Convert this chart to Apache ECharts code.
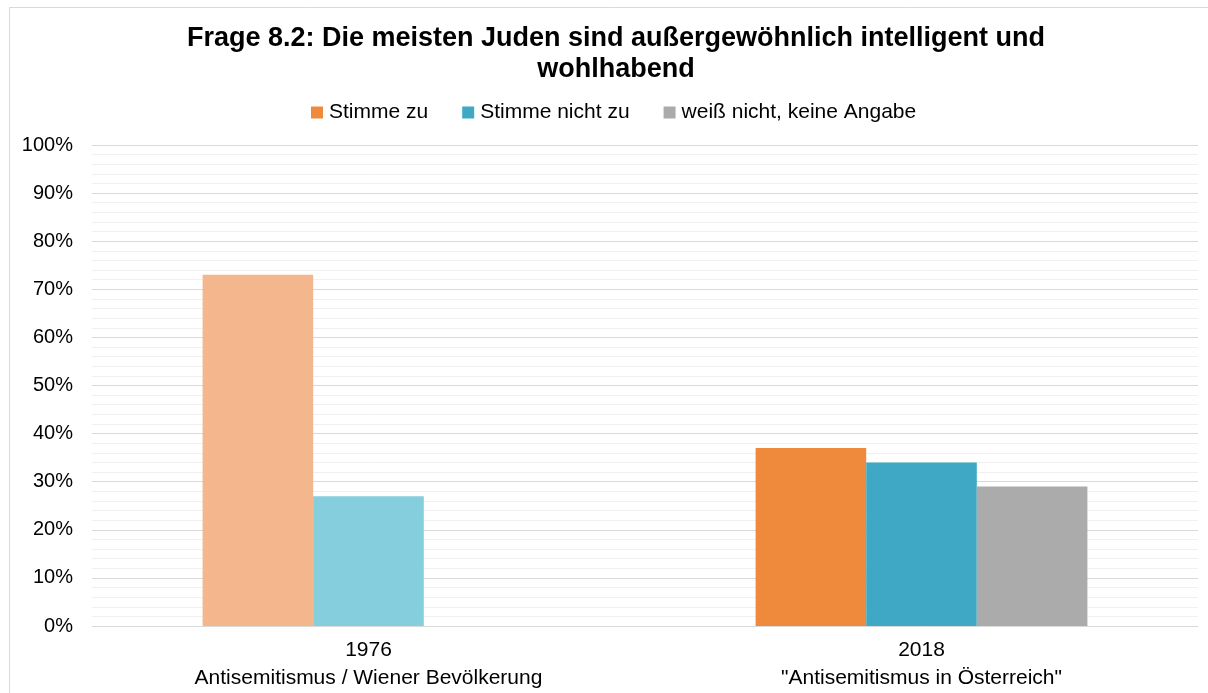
<!DOCTYPE html>
<html><head><meta charset="utf-8">
<script src="https://cdn.jsdelivr.net/npm/echarts@6/dist/echarts.min.js"></script>
<style>html,body{margin:0;padding:0;background:#fff}#c{width:1208px;height:693px}</style>
</head><body><div id="c"></div>
<script>
const categories = ['1976\nAntisemitismus / Wiener Bevölkerung', '2018\n"Antisemitismus in Österreich"'];
const seriesNames = ['Stimme zu', 'Stimme nicht zu', 'weiß nicht, keine Angabe'];
const stimmeZu = [73, 37];
const stimmeNichtZu = [27, 34];
const weissNicht = [null, 29];
const colors2018 = ['#EF8A3C', '#3FA9C5', '#ABABAB'];
const colors1976 = ['#F4B78D', '#84CEDD', '#CDCDCD'];
const yTicks = [0, 10, 20, 30, 40, 50, 60, 70, 80, 90, 100];

const font = '"Liberation Sans", Arial, sans-serif';
const vals = [stimmeZu, stimmeNichtZu, weissNicht];
const series = seriesNames.map((n, i) => ({
  name: n, type: 'bar', barGap: '0%', barCategoryGap: '40%',
  itemStyle: { color: colors2018[i] },
  data: vals[i].map((v, j) => ({ value: v, itemStyle: { color: j === 0 ? colors1976[i] : colors2018[i] } }))
}));

const chart = echarts.init(document.getElementById('c'));
chart.setOption({
  animation: false,
  title: {
    text: 'Frage 8.2: Die meisten Juden sind außergewöhnlich intelligent und\nwohlhabend',
    left: 611, top: 18, textAlign: 'center',
    textStyle: { fontFamily: font, fontSize: 27, fontWeight: 'bold', color: '#000', lineHeight: 31 }
  },
  legend: {
    top: 97, left: 306, itemWidth: 12, itemHeight: 12, itemGap: 34,
    icon: 'rect',
    textStyle: { fontFamily: font, fontSize: 21, color: '#000', padding: [0, 0, 0, 1] },
    data: seriesNames
  },
  graphic: [{ type: 'rect', shape: { x: 9.5, y: 7.5, width: 1300, height: 800 }, style: { fill: 'none', stroke: '#d9d9d9', lineWidth: 1 }, silent: true }],
  grid: { left: 92, right: 10, top: 145, bottom: 67, containLabel: false },
  xAxis: {
    type: 'category', data: categories,
    axisLine: { lineStyle: { color: '#d9d9d9' } },
    axisTick: { show: false },
    axisLabel: { fontFamily: font, fontSize: 21, color: '#000', lineHeight: 28, margin: 10 }
  },
  yAxis: {
    type: 'value', min: 0, max: 100, interval: 10,
    axisLabel: { fontFamily: font, fontSize: 20, color: '#000', margin: 19,
      formatter: v => yTicks.includes(v) ? v + '%' : '' },
    axisLine: { show: false }, axisTick: { show: false },
    splitLine: { lineStyle: { color: '#d9d9d9', width: 1 } },
    minorTick: { show: false, splitNumber: 5 },
    minorSplitLine: { show: true, lineStyle: { color: '#f0f0f0', width: 1 } }
  },
  series: series
});
</script></body></html>
